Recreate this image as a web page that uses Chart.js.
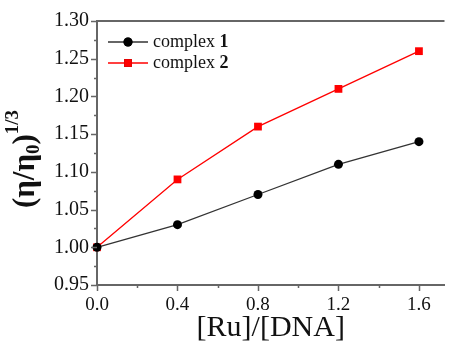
<!DOCTYPE html>
<html>
<head>
<meta charset="utf-8">
<script src="https://cdn.jsdelivr.net/npm/chart.js@4/dist/chart.umd.min.js"></script>
<style>
  html, body { margin: 0; padding: 0; background: #fff; }
  #wrap { width: 450px; height: 346px; }
</style>
</head>
<body>
<div id="wrap"><canvas id="viscChart" width="450" height="346"></canvas></div>
<script>
// data
var ratios = [0.0, 0.4, 0.8, 1.2, 1.6];           // [Ru]/[DNA]
var complex1 = [1.00, 1.03, 1.07, 1.11, 1.14];    // (eta/eta0)^1/3
var complex2 = [1.00, 1.09, 1.16, 1.21, 1.26];
var seriesNames = ['complex ', 'complex '];
var seriesNumbers = ['1', '2'];
var xTickLabels = ['0.0', '0.4', '0.8', '1.2', '1.6'];
var yTickLabels = ['0.95', '1.00', '1.05', '1.10', '1.15', '1.20', '1.25', '1.30'];

var serif = "'Liberation Serif', 'DejaVu Serif', serif";
var axisColor = '#666';

function points(ys) {
    var out = [];
    for (var i = 0; i < ratios.length; i++) {
        out.push({x: ratios[i], y: ys[i]});
    }
    return out;
}

function isMajor(v, step) {
    var q = v / step;
    return Math.abs(q - Math.round(q)) < 1e-6;
}

// outside tick marks (long on labelled ticks, short in between) + top frame line
var frame = {
    id: 'frame',
    afterDraw: function(chart) {
        var ctx = chart.ctx;
        var area = chart.chartArea;
        var xs = chart.scales.x, ys = chart.scales.y;
        ctx.save();
        ctx.strokeStyle = axisColor;
        ctx.lineWidth = 1.5;
        ctx.beginPath();
        xs.ticks.forEach(function(t) {
            var px = Math.round(xs.getPixelForValue(t.value)) + 0.5;
            var len = isMajor(t.value, 0.4) ? 6 : 3;
            ctx.moveTo(px, area.bottom);
            ctx.lineTo(px, area.bottom + len);
        });
        ys.ticks.forEach(function(t) {
            var py = Math.round(ys.getPixelForValue(t.value)) + 0.5;
            var len = isMajor(t.value, 0.05) ? 6 : 3;
            ctx.moveTo(area.left, py);
            ctx.lineTo(area.left - len, py);
        });
        ctx.stroke();
        ctx.lineWidth = 2;
        ctx.beginPath();
        ctx.moveTo(area.left, area.top);
        ctx.lineTo(area.right, area.top);
        ctx.stroke();
        ctx.restore();
    }
};

// y title with subscript and superscript
var yTitle = {
    id: 'yTitle',
    afterDraw: function(chart) {
        var ctx = chart.ctx;
        var big = 'bold 31px ' + serif;
        var small = 'bold 19px ' + serif;
        var parts = [
            {t: '(\u03b7/\u03b7', f: big, dy: 0},
            {t: '0', f: small, dy: 8},
            {t: ')', f: big, dy: 0},
            {t: '1/3', f: small, dy: -13}
        ];
        ctx.save();
        var total = 0;
        parts.forEach(function(p) { ctx.font = p.f; p.w = ctx.measureText(p.t).width; total += p.w; });
        ctx.translate(26, 159);
        ctx.rotate(-Math.PI / 2);
        ctx.fillStyle = '#111';
        ctx.textBaseline = 'middle';
        var x = -total / 2;
        parts.forEach(function(p) {
            ctx.font = p.f;
            ctx.fillText(p.t, x, p.dy);
            x += p.w;
        });
        ctx.restore();
    }
};

// legend with bold numbers
var legendBox = {
    id: 'legendBox',
    afterDraw: function(chart) {
        var ctx = chart.ctx;
        var area = chart.chartArea;
        ctx.save();
        chart.data.datasets.forEach(function(ds, i) {
            var y = area.top + 21 + i * 21;
            var x0 = area.left + 11;
            ctx.strokeStyle = ds.borderColor;
            ctx.lineWidth = ds.borderWidth;
            ctx.beginPath();
            ctx.moveTo(x0, y);
            ctx.lineTo(x0 + 40, y);
            ctx.stroke();
            Chart.helpers.drawPoint(ctx, {
                pointStyle: ds.pointStyle,
                radius: ds.pointRadius,
                borderWidth: 0
            }, x0 + 20, y);
            ctx.fillStyle = ds.pointBackgroundColor;
            ctx.fill();
            ctx.fillStyle = '#111';
            ctx.textBaseline = 'middle';
            ctx.font = '18px ' + serif;
            ctx.fillText(seriesNames[i], x0 + 45, y);
            var w = ctx.measureText(seriesNames[i]).width;
            ctx.font = 'bold 18px ' + serif;
            ctx.fillText(seriesNumbers[i], x0 + 45 + w, y);
        });
        ctx.restore();
    }
};

var context = document.getElementById('viscChart').getContext('2d');
var myChart = new Chart(context, {
    type: 'line',
    data: {
        datasets: [{
            label: seriesNames[0] + seriesNumbers[0],
            data: points(complex1),
            borderColor: '#333',
            borderWidth: 1.3,
            pointStyle: 'circle',
            pointRadius: 4.5,
            pointBackgroundColor: '#000',
            pointBorderWidth: 0,
            clip: false
        }, {
            label: seriesNames[1] + seriesNumbers[1],
            data: points(complex2),
            borderColor: '#ff0000',
            borderWidth: 1.3,
            pointStyle: 'rect',
            pointRadius: 5.5,
            pointBackgroundColor: '#ff0000',
            pointBorderWidth: 0,
            clip: false
        }]
    },
    options: {
        responsive: false,
        animation: false,
        layout: { padding: { left: 0, top: 21, right: 0, bottom: 0 } },
        plugins: {
            legend: { display: false },
            tooltip: { enabled: false }
        },
        scales: {
            x: {
                type: 'linear',
                min: 0,
                max: 1.727,
                afterFit: function(scale) { scale.height = 61; },
                ticks: {
                    stepSize: 0.2,
                    includeBounds: false,
                    maxRotation: 0,
                    autoSkip: false,
                    padding: 9,
                    color: '#111',
                    font: { family: serif, size: 19 },
                    callback: function(v) {
                        if (!isMajor(v, 0.4)) return '';
                        return xTickLabels[Math.round(v / 0.4)];
                    }
                },
                grid: { drawOnChartArea: false, drawTicks: false },
                border: { color: axisColor, width: 2 },
                title: {
                    display: true,
                    text: '[Ru]/[DNA]',
                    color: '#111',
                    font: { family: serif, size: 30 },
                    padding: { top: 0, bottom: 0 }
                }
            },
            y: {
                min: 0.95,
                max: 1.30,
                afterFit: function(scale) { scale.width = 97; },
                ticks: {
                    stepSize: 0.025,
                    autoSkip: false,
                    padding: 8,
                    color: '#111',
                    font: { family: serif, size: 20 },
                    callback: function(v) {
                        if (!isMajor(v, 0.05)) return '';
                        return yTickLabels[Math.round((v - 0.95) / 0.05)];
                    }
                },
                grid: { drawOnChartArea: false, drawTicks: false },
                border: { color: axisColor, width: 2 }
            }
        }
    },
    plugins: [frame, yTitle, legendBox]
});
</script>
</body>
</html>
